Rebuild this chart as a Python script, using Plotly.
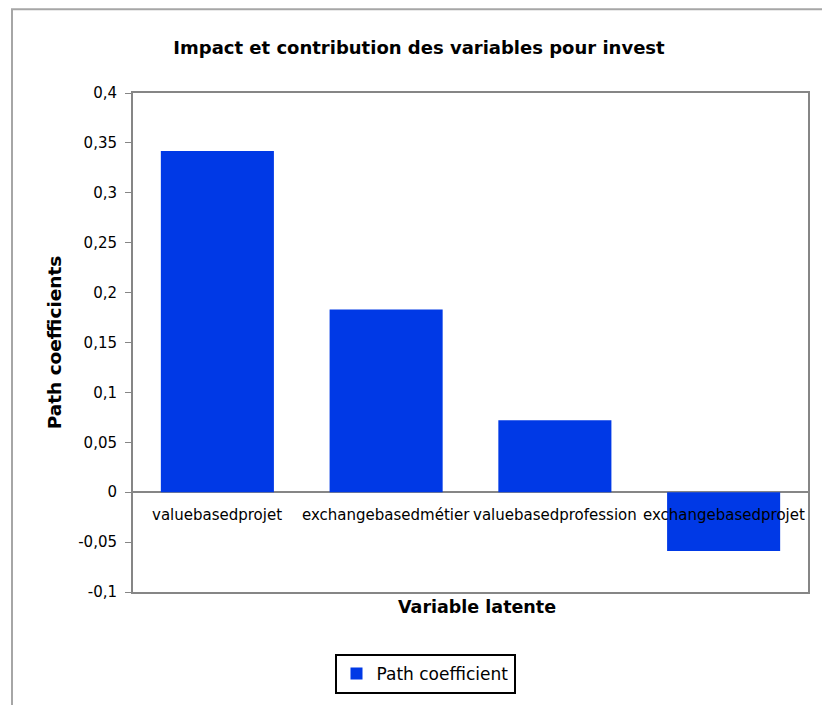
import plotly.graph_objects as go

categories = ["valuebasedprojet", "exchangebasedmétier", "valuebasedprofession", "exchangebasedprojet"]
values = [0.342, 0.183, 0.072, -0.059]
tick_vals = [-0.1, -0.05, 0, 0.05, 0.1, 0.15, 0.2, 0.25, 0.3, 0.35, 0.4]
tick_text = ["-0,1", "-0,05", "0", "0,05", "0,1", "0,15", "0,2", "0,25", "0,3", "0,35", "0,4"]

BLUE = "#0039E6"
GRAY = "#868686"
FONT = "DejaVu Sans, sans-serif"

# page body has an 8px margin: figure is drawn 8px right/down
W, H = 822, 697
L, T, R, B = 125, 85, 22, 112
PW, PH = W - L - R, H - T - B

fig = go.Figure()
fig.add_trace(go.Bar(
    x=categories, y=values, name="Path coefficient",
    marker=dict(color=BLUE, line=dict(width=0)),
))

annotations = []
for c in categories:
    annotations.append(dict(
        x=c, y=0, xref="x", yref="y", text=c, showarrow=False,
        yanchor="top", yshift=-12, font=dict(family=FONT, size=15, color="#000000"),
    ))
annotations.append(dict(
    x=(469 - L) / PW, y=(585 - 600) / PH, xref="paper", yref="paper",
    text="<b>Variable latente</b>", showarrow=False, yanchor="middle",
    font=dict(family=FONT, size=17.5, color="#000"),
))

fig.update_layout(
    width=W, height=H,
    margin=dict(l=L, r=R, t=T, b=B),
    paper_bgcolor="white", plot_bgcolor="white",
    title=dict(text="<b>Impact et contribution des variables pour invest</b>",
               x=0.5, xanchor="center", y=1 - 40 / H, yanchor="middle",
               font=dict(family=FONT, size=18, color="#000")),
    bargap=0.33,
    showlegend=True,
    legend=dict(x=(417 - L) / PW, y=(585 - 666) / PH, xanchor="center", yanchor="middle",
                orientation="h", bordercolor="#000", borderwidth=2, bgcolor="white",
                font=dict(family=FONT, size=17, color="#000")),
    xaxis=dict(showticklabels=False, showline=True, linecolor=GRAY, linewidth=2,
               mirror=True, ticks="", showgrid=False, zeroline=False),
    yaxis=dict(range=[-0.1, 0.4], tickvals=tick_vals, ticktext=tick_text,
               showline=True, linecolor=GRAY, linewidth=2, mirror=True,
               ticks="outside", ticklen=6, tickcolor=GRAY, tickwidth=1,
               ticklabelstandoff=5,
               showgrid=False, zeroline=True, zerolinecolor=GRAY, zerolinewidth=2,
               tickfont=dict(family=FONT, size=15, color="#000"),
               title=dict(text="<b>Path coefficients</b>", standoff=12,
                          font=dict(family=FONT, size=18.5, color="#000"))),
    annotations=annotations,
    shapes=[dict(type="rect", xref="paper", yref="paper",
                 x0=(4 - L) / PW, x1=1.2, y0=-0.5, y1=(PH + T - 1) / PH,
                 line=dict(color="#A6A6A6", width=2), layer="below")],
)

fig.write_html("out.html")
